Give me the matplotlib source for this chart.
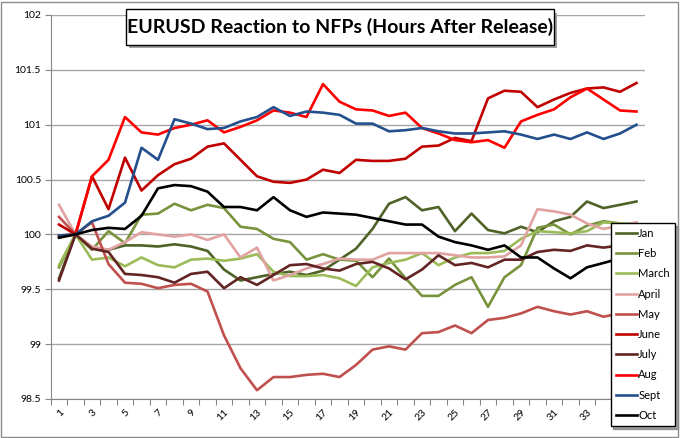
import numpy as np
import matplotlib.pyplot as plt
from matplotlib.patches import Rectangle

plt.rcParams['font.family'] = ['Lato', 'DejaVu Sans']

# hours after release (categories)
hours = list(range(1, 37))

# indexed EURUSD, 100 = price at hour 2
jan = [99.60, 100.00, 99.88, 99.86, 99.90, 99.90, 99.89, 99.91, 99.89, 99.85, 99.68, 99.58,
       99.61, 99.64, 99.66, 99.63, 99.67, 99.77, 99.87, 100.05, 100.28, 100.34, 100.22, 100.25,
       100.03, 100.19, 100.04, 100.01, 100.07, 100.02, 100.12, 100.16, 100.30, 100.24, 100.27, 100.30]
feb = [99.70, 100.00, 99.86, 100.03, 99.92, 100.18, 100.19, 100.28, 100.22, 100.27, 100.24, 100.07,
       100.05, 99.96, 99.93, 99.77, 99.82, 99.77, 99.76, 99.61, 99.78, 99.60, 99.44, 99.44,
       99.54, 99.61, 99.34, 99.61, 99.72, 100.06, 100.09, 100.00, 100.08, 100.12, 100.10, 100.08]
march = [99.72, 100.00, 99.77, 99.79, 99.71, 99.79, 99.72, 99.70, 99.77, 99.78, 99.76, 99.78,
         99.82, 99.66, 99.62, 99.62, 99.63, 99.60, 99.53, 99.70, 99.74, 99.77, 99.83, 99.72,
         99.79, 99.83, 99.83, 99.85, 99.96, 100.03, 100.02, 100.01, 100.03, 100.11, 100.10, 100.10]
april = [100.27, 100.00, 99.89, 99.86, 99.93, 100.02, 100.00, 99.98, 100.00, 99.95, 100.00, 99.79,
         99.88, 99.58, 99.63, 99.69, 99.73, 99.78, 99.77, 99.77, 99.83, 99.83, 99.83, 99.83,
         99.81, 99.79, 99.79, 99.80, 99.90, 100.23, 100.21, 100.18, 100.10, 100.05, 100.08, 100.11]
may = [100.16, 100.00, 100.11, 99.73, 99.56, 99.55, 99.51, 99.54, 99.55, 99.48, 99.08, 98.78,
       98.58, 98.70, 98.70, 98.72, 98.73, 98.70, 98.81, 98.95, 98.98, 98.95, 99.10, 99.11,
       99.17, 99.10, 99.22, 99.24, 99.28, 99.34, 99.30, 99.27, 99.30, 99.25, 99.28, 99.30]
june = [100.09, 100.00, 100.53, 100.23, 100.70, 100.40, 100.54, 100.64, 100.69, 100.80, 100.83, 100.68,
        100.53, 100.48, 100.47, 100.50, 100.59, 100.56, 100.68, 100.67, 100.67, 100.69, 100.80, 100.81,
        100.88, 100.85, 101.24, 101.31, 101.30, 101.16, 101.23, 101.29, 101.33, 101.34, 101.30, 101.38]
july = [99.58, 100.00, 99.87, 99.84, 99.64, 99.63, 99.61, 99.56, 99.64, 99.66, 99.51, 99.61,
        99.54, 99.63, 99.72, 99.73, 99.69, 99.67, 99.73, 99.75, 99.69, 99.59, 99.68, 99.81,
        99.72, 99.74, 99.70, 99.77, 99.77, 99.84, 99.86, 99.85, 99.90, 99.88, 99.90, 99.90]
aug = [99.99, 100.00, 100.53, 100.68, 101.07, 100.93, 100.91, 100.97, 101.00, 101.04, 100.93, 100.98,
       101.04, 101.13, 101.11, 101.07, 101.37, 101.21, 101.14, 101.13, 101.08, 101.11, 100.97, 100.92,
       100.86, 100.84, 100.86, 100.79, 101.03, 101.09, 101.14, 101.25, 101.33, 101.23, 101.13, 101.12]
sept = [99.99, 100.00, 100.12, 100.17, 100.29, 100.79, 100.68, 101.05, 101.01, 100.96, 100.97, 101.03,
        101.07, 101.16, 101.08, 101.12, 101.11, 101.09, 101.01, 101.01, 100.94, 100.95, 100.97, 100.94,
        100.92, 100.92, 100.93, 100.94, 100.91, 100.87, 100.91, 100.87, 100.93, 100.87, 100.92, 101.00]
octo = [99.97, 100.00, 100.04, 100.06, 100.05, 100.17, 100.42, 100.45, 100.44, 100.39, 100.25, 100.25,
        100.22, 100.34, 100.22, 100.16, 100.20, 100.19, 100.18, 100.15, 100.12, 100.09, 100.09, 99.98,
        99.93, 99.90, 99.86, 99.90, 99.79, 99.79, 99.69, 99.60, 99.70, 99.74, 99.78, 99.82]

months = ['Jan', 'Feb', 'March', 'April', 'May', 'June', 'July', 'Aug', 'Sept', 'Oct']
series = [jan, feb, march, april, may, june, july, aug, sept, octo]
colors = ['#4F6228', '#77933C', '#9BBB59', '#E0A3A1', '#C0504D',
          '#C00000', '#632523', '#FF0000', '#23508C', '#000000']

fig = plt.figure(figsize=(6.8, 4.38), dpi=100)
ax = fig.add_axes([50.75 / 680, 39 / 438, 594 / 680, 384 / 438])

for vals, name, c in zip(series, months, colors):
    ax.plot(hours, vals, color=c, lw=1.9, label=name)

ax.set_xlim(0.5, 36.5)
ax.set_ylim(98.5, 102)
yt = np.arange(98.5, 102.01, 0.5)
ax.set_yticks(yt)
ax.set_yticklabels(['98.5', '99', '99.5', '100', '100.5', '101', '101.5', '102'])
ax.yaxis.grid(True, color='#A6A6A6', lw=1)
ax.set_axisbelow(True)

for s in ['top', 'right']:
    ax.spines[s].set_visible(False)
for s in ['left', 'bottom']:
    ax.spines[s].set_color('#868686')

# tick marks between categories, labels on odd hours
ax.set_xticks(np.arange(0.5, 37, 1))
ax.set_xticklabels([])
odd = hours[::2]
ax.set_xticks(odd, minor=True)
ax.set_xticklabels([str(h) for h in odd], minor=True, rotation=45,
                   ha='right', va='top', rotation_mode='anchor')
ax.tick_params(axis='x', which='major', length=4, color='#868686')
ax.tick_params(axis='x', which='minor', length=0, pad=6, labelsize=7.5)
ax.tick_params(axis='y', length=4, color='#868686', labelsize=7.5, pad=3)

leg = ax.legend(loc='upper left', bbox_to_anchor=(0.898, 0.491), bbox_transform=fig.transFigure,
                fontsize=8, fancybox=False, edgecolor='black', framealpha=1, shadow=True,
                handlelength=1.9, handletextpad=0.15, labelspacing=0.83, borderpad=0.45,
                borderaxespad=0)
leg.get_frame().set_linewidth(1)

# title box with shadow
fig.add_artist(Rectangle((0.1853 + 0.0045, 0.898 - 0.007), 0.6294, 0.0804, transform=fig.transFigure,
                         fc='#A0A0A0', ec='none', zorder=5))
fig.add_artist(Rectangle((0.1853, 0.898), 0.6294, 0.0804, transform=fig.transFigure,
                         fc='white', ec='black', lw=1, zorder=6))
fig.text(0.5, 0.938, 'EURUSD Reaction to NFPs (Hours After Release)', ha='center', va='center',
         fontsize=14, fontweight='bold', zorder=7)

# chart area border
fig.add_artist(Rectangle((0.002, 0.003), 0.995, 0.993, transform=fig.transFigure,
                         fill=False, ec='#8C8C8C', lw=1))

fig.savefig('out.png', dpi=100)
